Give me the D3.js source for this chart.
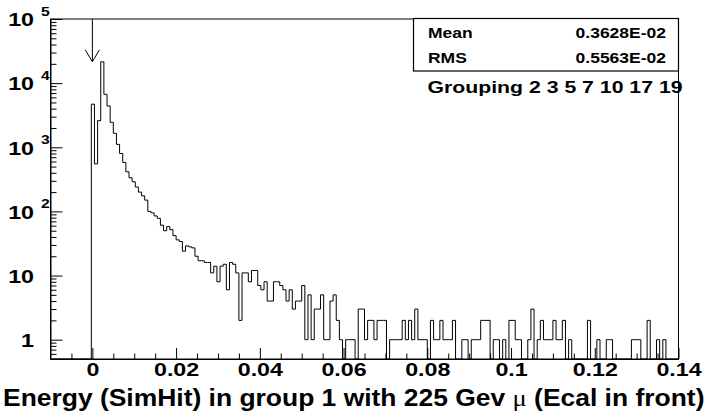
<!DOCTYPE html>
<html>
<head>
<meta charset="utf-8">
<script src="https://cdn.jsdelivr.net/npm/d3@7"></script>
<style>
  html, body { margin: 0; padding: 0; background: #fff; }
  svg { display: block; }
  text { font-family: "Liberation Sans", Arial, Helvetica, sans-serif; font-weight: bold; fill: #000; }
</style>
</head>
<body>
<svg id="chart" width="713" height="417"></svg>
<script>
// Histogram: 200 bins of width 0.00075 spanning -0.01 .. 0.14; bins below firstFilledBin are empty
const histLow = -0.01;
const histHigh = 0.14;
const binWidth = 0.00075;
const firstFilledBin = 13;
const counts = [
  4700, 550, 2600, 21500, 6700, 4400, 2450, 1650, 1110, 800,
  580, 415, 334, 290, 240, 200, 175, 150, 100, 95,
  85, 78, 61, 50, 58, 52, 42, 36, 34, 24,
  29, 28, 27, 20, 17, 17, 16, 16, 11, 14,
  8, 14, 15, 6, 16, 15, 11, 2, 11, 11,
  8, 12, 12, 7, 6, 8, 4, 4, 8, 8,
  7, 6, 4, 6, 3, 4, 4, 7, 1, 5,
  1, 3, 3, 5, 1, 1, 4, 5, 2, 1,
  0, 1, 1, 1, 0, 3, 3, 1, 2, 2,
  1, 2, 2, 2, 0, 1, 1, 1, 1, 2,
  1, 2, 1, 3, 1, 1, 1, 0, 2, 1,
  1, 2, 1, 1, 1, 2, 0, 0, 1, 1,
  0, 1, 1, 1, 2, 2, 2, 0, 1, 1,
  0, 1, 0, 2, 2, 1, 1, 0, 0, 1,
  3, 0, 1, 2, 1, 1, 1, 2, 1, 1,
  2, 0, 1, 0, 0, 0, 0, 0, 2, 0,
  0, 1, 0, 0, 1, 1, 0, 0, 0, 0,
  0, 0, 1, 1, 1, 0, 0, 2, 0, 0,
  1, 0, 1, 0, 0, 0, 0
];

const xTickValues = [0, 0.02, 0.04, 0.06, 0.08, 0.1, 0.12, 0.14];
const xTickLabels = ["0", "0.02", "0.04", "0.06", "0.08", "0.1", "0.12", "0.14"];
const yTickValues = [1, 10, 100, 1000, 10000, 100000];
const yTickBase = ["1", "10", "10", "10", "10", "10"];
const yTickExp = ["", "", "2", "3", "4", "5"];
const statNames = ["Mean", "RMS"];
const statValues = ["0.3628E-02", "0.5563E-02"];
const groupingLabel = "Grouping 2 3 5 7 10 17 19";
const titleMain = "Energy (SimHit) in group 1 with 225 Gev ";
const titleSymbol = "\u03bc";
const titleTail = " (Ecal in front)";
const markerEnergy = 0;

// ---- layout ----
const frame = { left: 50.5, right: 678.5, top: 19, bottom: 359 };
const SX = 1.25; // horizontal stretch of the lettering

const svg = d3.select("#chart");

const x = d3.scaleLinear().domain([histLow, histHigh]).range([frame.left, frame.right]);
const y = d3.scaleLog().domain([0.5, 1e5]).range([frame.bottom, frame.top]);

function label(g, px, py, str, size, anchor) {
  return g.append("text")
    .attr("transform", `translate(${px},${py}) scale(${SX},1)`)
    .attr("text-anchor", anchor || "start")
    .style("font-size", size + "px")
    .text(str);
}

// ---- histogram outline ----
const nBins = Math.round((histHigh - histLow) / binWidth);
const pts = [];
for (let i = 0; i < nBins; i++) {
  const j = i - firstFilledBin;
  const c = (j >= 0 && j < counts.length) ? counts[j] : 0;
  pts.push([histLow + i * binWidth, c]);
}
pts.push([histHigh, pts[pts.length - 1][1]]);

const stepLine = d3.line()
  .x(d => x(d[0]))
  .y(d => d[1] > 0 ? y(d[1]) : frame.bottom)
  .curve(d3.curveStepAfter);

svg.append("path")
  .attr("d", stepLine(pts))
  .attr("fill", "none")
  .attr("stroke", "#000")
  .attr("stroke-width", 1);

// ---- frame ----
svg.append("rect")
  .attr("x", frame.left).attr("y", frame.top)
  .attr("width", frame.right - frame.left).attr("height", frame.bottom - frame.top)
  .attr("fill", "none").attr("stroke", "#000").attr("stroke-width", 1);

// ---- x axis ticks (inside frame) ----
const xMinor = d3.range(-0.005, 0.14, 0.005).filter(v => Math.abs(v / 0.02 - Math.round(v / 0.02)) > 1e-6);
svg.append("g")
  .attr("transform", `translate(0,${frame.bottom})`)
  .call(d3.axisBottom(x).tickValues(xMinor).tickSizeInner(-5.5).tickSizeOuter(0).tickFormat(""))
  .call(g => g.select(".domain").attr("stroke", "#000"));

const xAxisG = svg.append("g")
  .attr("transform", `translate(0,${frame.bottom})`)
  .call(d3.axisBottom(x).tickValues(xTickValues).tickSizeInner(-11).tickSizeOuter(0)
    .tickPadding(0).tickFormat((d, i) => xTickLabels[i]));
xAxisG.select(".domain").remove();
xAxisG.selectAll(".tick line").attr("stroke", "#000");
xAxisG.selectAll(".tick text")
  .attr("y", 17.5).attr("dy", 0)
  .attr("transform", `scale(${SX},1)`)
  .style("font-size", "18.6px")
  .attr("fill", "#000");
xAxisG.attr("font-family", null).attr("font-size", null);

// ---- y axis ticks (inside frame) ----
const yMinor = [];
[0.1, 1, 10, 100, 1000, 10000].forEach(dec => {
  for (let m = 2; m <= 9; m++) {
    const v = m * dec;
    if (v > 0.5 && v < 1e5) yMinor.push(v);
  }
});
svg.append("g")
  .attr("transform", `translate(${frame.left},0)`)
  .call(d3.axisLeft(y).tickValues(yMinor).tickSizeInner(-6).tickSizeOuter(0).tickFormat(""))
  .call(g => g.select(".domain").attr("stroke", "#000"));
svg.append("g")
  .attr("transform", `translate(${frame.left},0)`)
  .call(d3.axisLeft(y).tickValues(yTickValues).tickSizeInner(-12).tickSizeOuter(0).tickFormat(""))
  .call(g => g.select(".domain").remove());

const yLab = svg.append("g");
yTickValues.forEach((v, i) => {
  const ty = y(v);
  label(yLab, 34, ty + 7.3, yTickBase[i], 18.6, "end");
  if (yTickExp[i]) label(yLab, 41, ty - 3, yTickExp[i], 12.6, "start");
});

// ---- arrow marking zero energy ----
const ax = x(markerEnergy);
const arrow = svg.append("g").attr("stroke", "#000").attr("stroke-width", 1).attr("fill", "none");
arrow.append("line").attr("x1", ax).attr("x2", ax).attr("y1", frame.top).attr("y2", 61.7);
arrow.append("polyline").attr("points", `${ax - 7},50 ${ax},61.7 ${ax + 7},50`);

// ---- statistics box ----
const stats = svg.append("g");
stats.append("rect")
  .attr("x", 413.5).attr("y", 18.5).attr("width", 265).attr("height", 52.5)
  .attr("fill", "#fff").attr("stroke", "#000").attr("stroke-width", 1.2);
statNames.forEach((n, i) => {
  const by = 38.3 + i * 25;
  label(stats, 428, by, n, 14, "start");
  label(stats, 666, by, statValues[i], 14, "end");
});
label(stats, 427.5, 93.3, groupingLabel, 17, "start");

// ---- x axis title ----
const title = svg.append("text")
  .attr("transform", `translate(3,406) scale(1.15,1)`)
  .style("font-size", "23px");
title.append("tspan").text(titleMain);
title.append("tspan")
  .style("font-family", "'Liberation Serif', 'DejaVu Serif', serif")
  .style("font-weight", "normal")
  .text(titleSymbol);
title.append("tspan").text(titleTail);
</script>
</body>
</html>
